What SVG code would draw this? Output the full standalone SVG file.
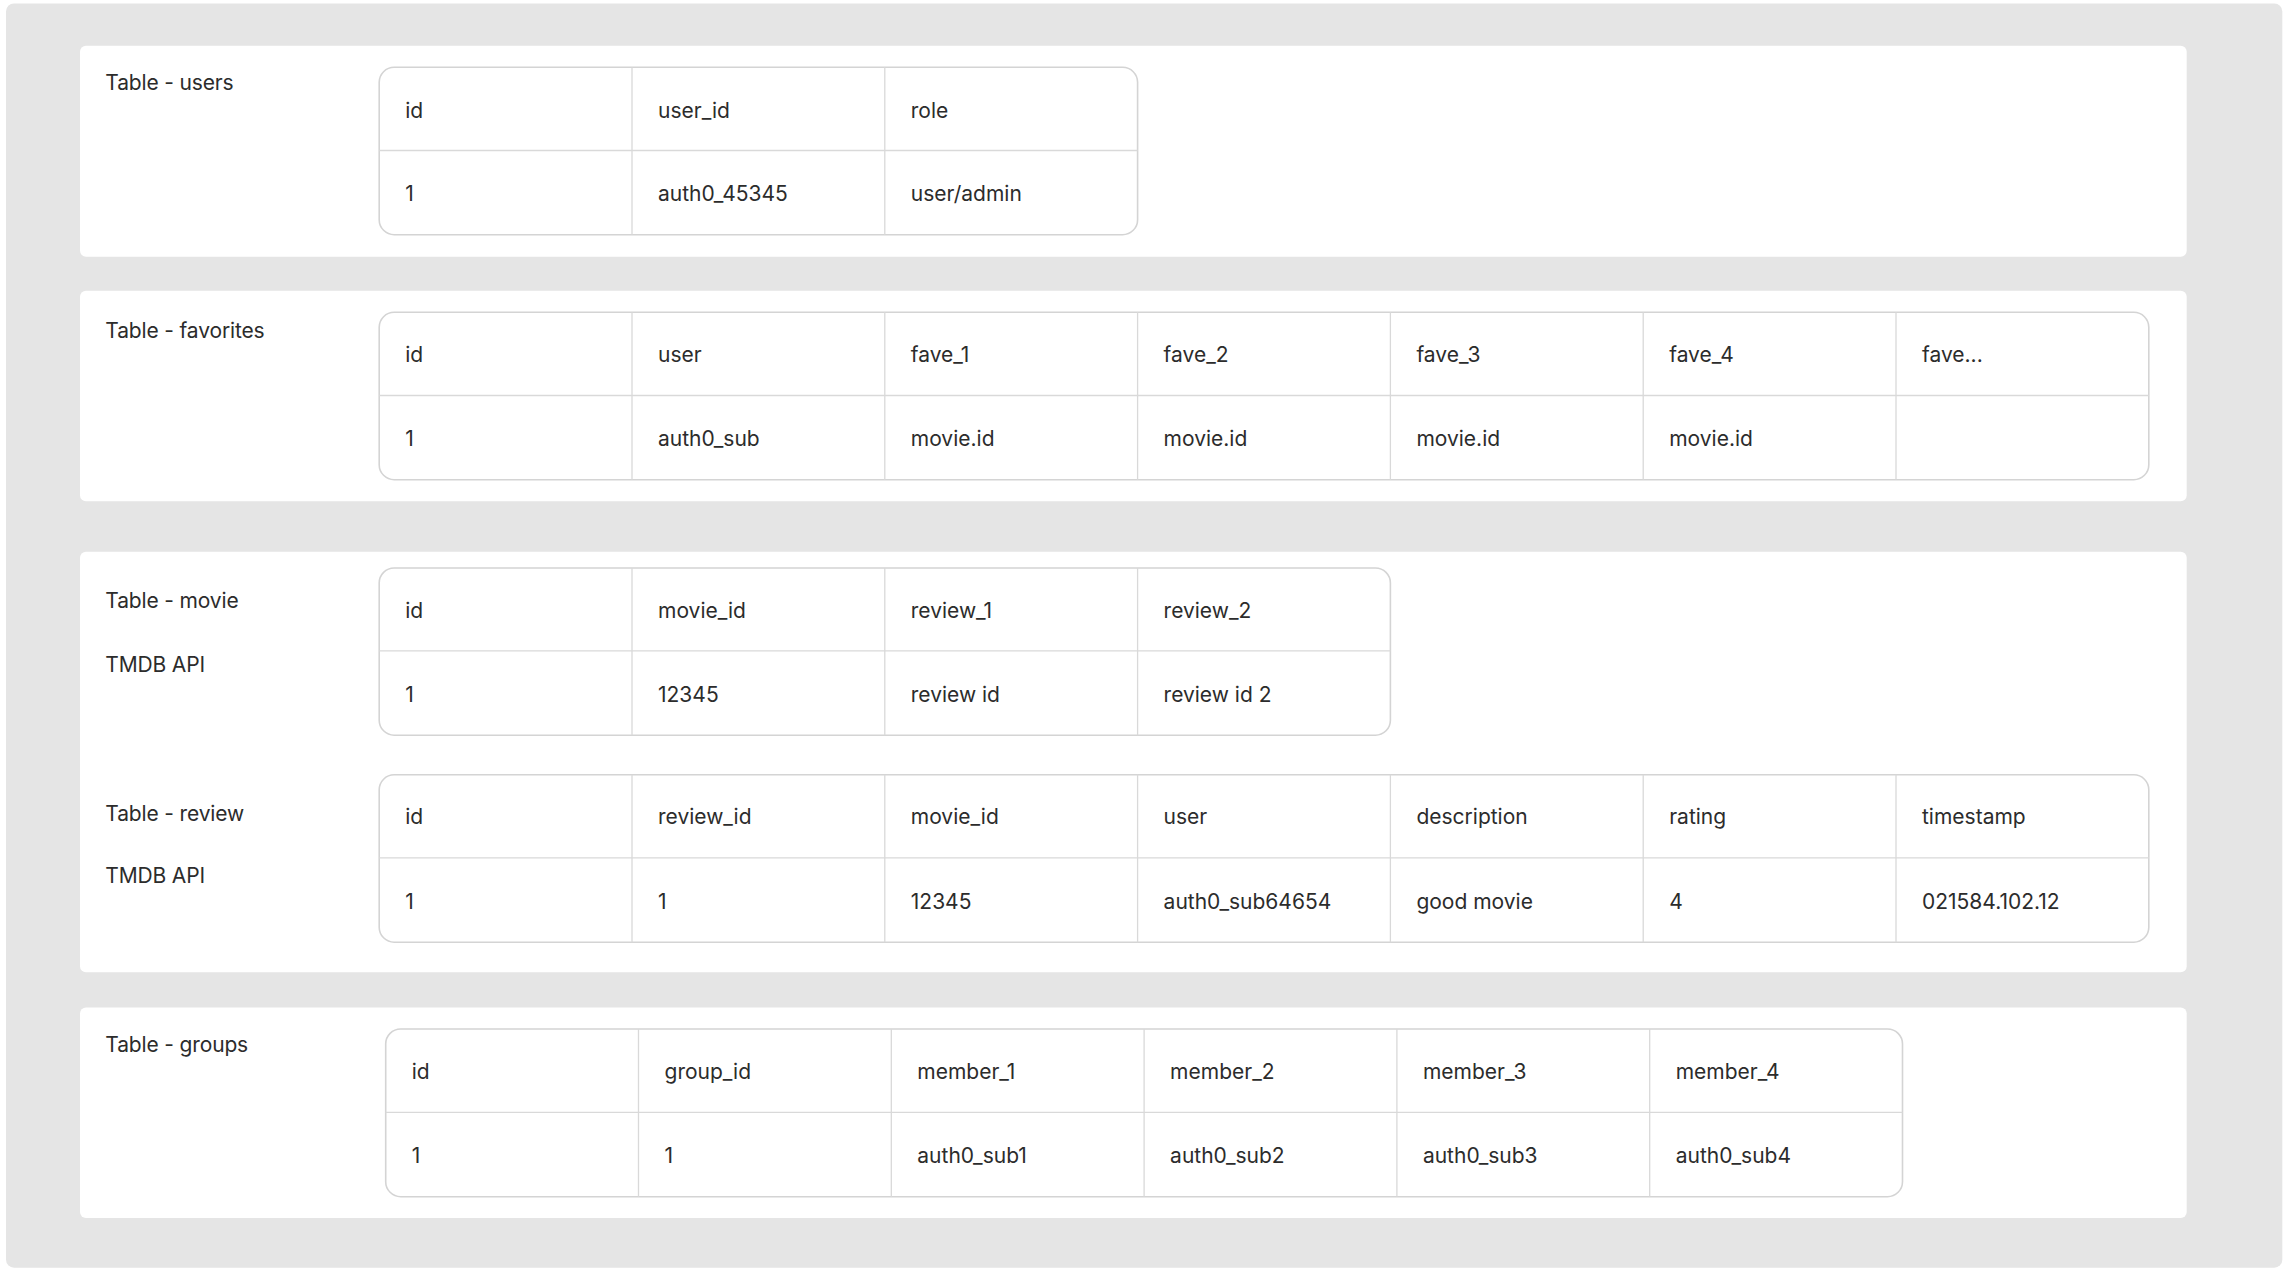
<svg xmlns="http://www.w3.org/2000/svg" width="2291" height="1278" viewBox="0 0 2291 1278">
<style>
.bg{fill:#e5e5e5}
.panel{fill:#ffffff}
.tb{fill:#ffffff;stroke:#d4d4d4;stroke-width:1.6}
.ln{stroke:#d9d9d9;stroke-width:1.3;fill:none}
text{font-family:Inter,"Liberation Sans",Arial,sans-serif;font-size:21px;fill:#2c2c2c}
.lbl{letter-spacing:-0.15px}
</style>
<rect width="2291" height="1278" fill="#ffffff"/>
<rect class="bg" x="6" y="3.5" width="2276.3" height="1264.2" rx="8"/>

<g id="panel-users">
<rect class="panel" x="80" y="45.7" width="2106.7" height="211" rx="6"/>
<text class="lbl" x="105.3" y="90">Table - users</text>
</g>
<g id="table-users">
<rect class="tb" x="379.2" y="67.3" width="758.4" height="167.4" rx="15"/>
<path class="ln" d="M379.2 150.5H1137.6M632 67.3V234.7M884.8 67.3V234.7"/>
<text x="405.2" y="117.5">id</text>
<text x="658" y="117.5">user_id</text>
<text x="910.8" y="117.5">role</text>
<text x="405.2" y="201.3">1</text>
<text x="658" y="201.3">auth0_45345</text>
<text x="910.8" y="201.3">user/admin</text>
</g>

<g id="panel-favorites">
<rect class="panel" x="80" y="290.7" width="2106.7" height="210.6" rx="6"/>
<text class="lbl" x="105.3" y="337.5">Table - favorites</text>
</g>
<g id="table-favorites">
<rect class="tb" x="379.2" y="312.3" width="1769.6" height="167.4" rx="15"/>
<path class="ln" d="M379.2 395.5H2148.8M632 312.3V479.7M884.8 312.3V479.7M1137.6 312.3V479.7M1390.4 312.3V479.7M1643.2 312.3V479.7M1896 312.3V479.7"/>
<text x="405.2" y="362">id</text>
<text x="658" y="362">user</text>
<text x="910.8" y="362">fave_1</text>
<text x="1163.6" y="362">fave_2</text>
<text x="1416.4" y="362">fave_3</text>
<text x="1669.2" y="362">fave_4</text>
<text x="1922" y="362">fave...</text>
<text x="405.2" y="446.3">1</text>
<text x="658" y="446.3">auth0_sub</text>
<text x="910.8" y="446.3">movie.id</text>
<text x="1163.6" y="446.3">movie.id</text>
<text x="1416.4" y="446.3">movie.id</text>
<text x="1669.2" y="446.3">movie.id</text>
</g>

<g id="panel-movie-review">
<rect class="panel" x="80" y="551.7" width="2106.7" height="420.6" rx="6"/>
<text class="lbl" x="105.3" y="608.3">Table - movie</text>
<text class="lbl" x="105.3" y="671.7">TMDB API</text>
<text class="lbl" x="105.3" y="820.7">Table - review</text>
<text class="lbl" x="105.3" y="883.3">TMDB API</text>
</g>
<g id="table-movie">
<rect class="tb" x="379.2" y="568" width="1011.2" height="167.2" rx="15"/>
<path class="ln" d="M379.2 650.9H1390.4M632 568V735.2M884.8 568V735.2M1137.6 568V735.2"/>
<text x="405.2" y="617.5">id</text>
<text x="658" y="617.5">movie_id</text>
<text x="910.8" y="617.5">review_1</text>
<text x="1163.6" y="617.5">review_2</text>
<text x="405.2" y="701.8">1</text>
<text x="658" y="701.8">12345</text>
<text x="910.8" y="701.8">review id</text>
<text x="1163.6" y="701.8">review id 2</text>
</g>
<g id="table-review">
<rect class="tb" x="379.2" y="774.8" width="1769.6" height="167.4" rx="15"/>
<path class="ln" d="M379.2 857.9H2148.8M632 774.8V942.2M884.8 774.8V942.2M1137.6 774.8V942.2M1390.4 774.8V942.2M1643.2 774.8V942.2M1896 774.8V942.2"/>
<text x="405.2" y="824.2">id</text>
<text x="658" y="824.2">review_id</text>
<text x="910.8" y="824.2">movie_id</text>
<text x="1163.6" y="824.2">user</text>
<text x="1416.4" y="824.2">description</text>
<text x="1669.2" y="824.2">rating</text>
<text x="1922" y="824.2">timestamp</text>
<text x="405.2" y="908.5">1</text>
<text x="658" y="908.5">1</text>
<text x="910.8" y="908.5">12345</text>
<text x="1163.6" y="908.5">auth0_sub64654</text>
<text x="1416.4" y="908.5">good movie</text>
<text x="1669.2" y="908.5">4</text>
<text x="1922" y="908.5">021584.102.12</text>
</g>

<g id="panel-groups">
<rect class="panel" x="80" y="1007.5" width="2106.7" height="210.5" rx="6"/>
<text class="lbl" x="105.3" y="1051.7">Table - groups</text>
</g>
<g id="table-groups">
<rect class="tb" x="385.7" y="1029" width="1516.8" height="167.7" rx="15"/>
<path class="ln" d="M385.7 1112.3H1902.5M638.5 1029V1196.7M891.3 1029V1196.7M1144.1 1029V1196.7M1396.9 1029V1196.7M1649.7 1029V1196.7"/>
<text x="411.7" y="1078.8">id</text>
<text x="664.5" y="1078.8">group_id</text>
<text x="917.3" y="1078.8">member_1</text>
<text x="1170.1" y="1078.8">member_2</text>
<text x="1422.9" y="1078.8">member_3</text>
<text x="1675.7" y="1078.8">member_4</text>
<text x="411.7" y="1163.2">1</text>
<text x="664.5" y="1163.2">1</text>
<text x="917.3" y="1163.2">auth0_sub1</text>
<text x="1170.1" y="1163.2">auth0_sub2</text>
<text x="1422.9" y="1163.2">auth0_sub3</text>
<text x="1675.7" y="1163.2">auth0_sub4</text>
</g>

<g id="connectors"></g>
</svg>
